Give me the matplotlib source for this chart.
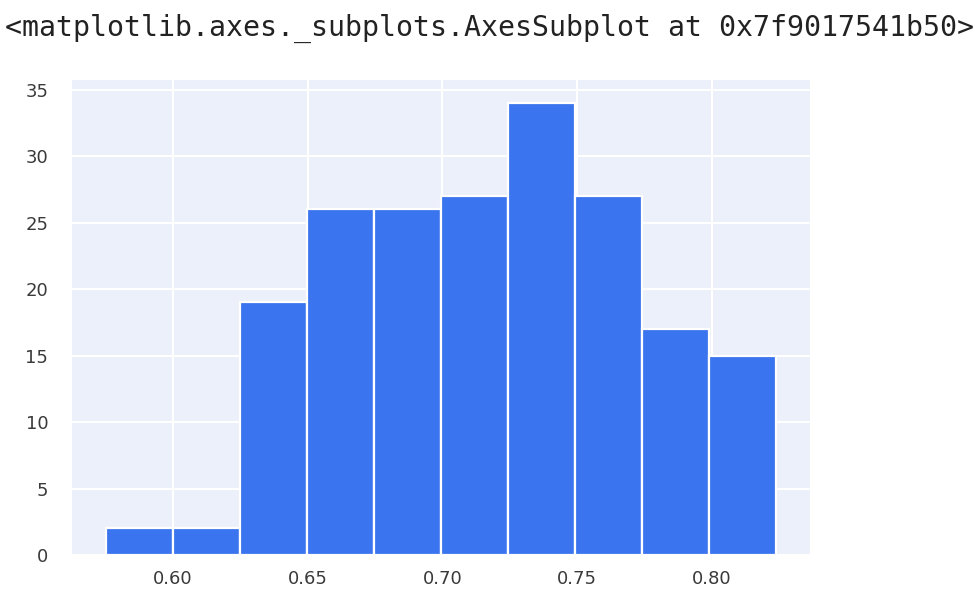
import numpy as np
import matplotlib
matplotlib.use("Agg")
import matplotlib.pyplot as plt

# histogram: 10 bins
bin_edges = np.linspace(0.575, 0.824, 11)
counts = [2, 2, 19, 26, 26, 27, 34, 27, 17, 15]
x_ticks = [0.60, 0.65, 0.70, 0.75, 0.80]
x_tick_labels = ["0.60", "0.65", "0.70", "0.75", "0.80"]
y_ticks = [0, 5, 10, 15, 20, 25, 30, 35]
header = "<matplotlib.axes._subplots.AxesSubplot at 0x7f9017541b50>"

fig = plt.figure(figsize=(9.75, 6.01), dpi=100)
ax = fig.add_axes([0.0738, 0.0765, 0.757, 0.79])

centers = (bin_edges[:-1] + bin_edges[1:]) / 2
ax.hist(centers, bins=bin_edges, weights=counts, color="#3b74ef",
        edgecolor="white", linewidth=1.6)

ax.set_facecolor("#ecf0fa")
ax.grid(True, color="white", linewidth=1.5)
ax.set_axisbelow(True)
for s in ax.spines.values():
    s.set_visible(False)

ax.set_xticks(x_ticks)
ax.set_xticklabels(x_tick_labels)
ax.set_yticks(y_ticks)
ax.tick_params(axis="both", length=0, labelsize=13, labelcolor="#3a3a3a")
ax.tick_params(axis="y", pad=17)
ax.tick_params(axis="x", pad=11)

fig.text(0.005, 0.952, header, family="DejaVu Sans Mono", fontsize=20.3,
         color="#222222", va="center", ha="left")

fig.savefig("out.png", dpi=100)
